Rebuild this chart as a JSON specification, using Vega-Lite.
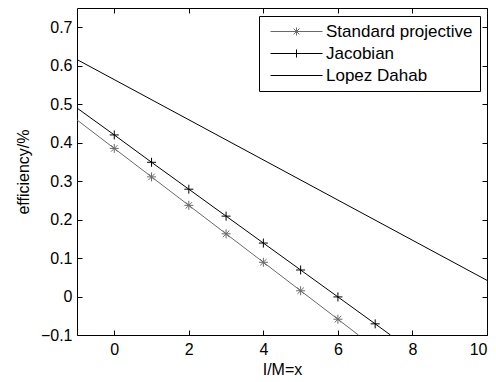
{
  "$schema": "https://vega.github.io/schema/vega-lite/v6.json",
  "width": 410,
  "height": 327,
  "autosize": "none",
  "padding": {"left": 77, "top": 8, "right": 9, "bottom": 47},
  "background": "white",
  "config": {
    "font": "Liberation Sans",
    "view": {"stroke": "black", "strokeWidth": 1},
    "axis": {
      "domain": false,
      "grid": false,
      "tickColor": "black",
      "tickSize": -5,
      "tickWidth": 1,
      "labelColor": "black",
      "labelFontSize": 16,
      "labelPadding": 10,
      "titleColor": "black",
      "titleFontSize": 16,
      "titleFontWeight": "normal"
    }
  },
  "data": {
    "values": [
      {"series": "Standard projective", "x": -1, "y": 0.459, "m": false},
      {"series": "Standard projective", "x": 0, "y": 0.385, "m": true},
      {"series": "Standard projective", "x": 1, "y": 0.311, "m": true},
      {"series": "Standard projective", "x": 2, "y": 0.237, "m": true},
      {"series": "Standard projective", "x": 3, "y": 0.163, "m": true},
      {"series": "Standard projective", "x": 4, "y": 0.089, "m": true},
      {"series": "Standard projective", "x": 5, "y": 0.015, "m": true},
      {"series": "Standard projective", "x": 6, "y": -0.059, "m": true},
      {"series": "Standard projective", "x": 6.55, "y": -0.1, "m": false},
      {"series": "Jacobian", "x": -1, "y": 0.49, "m": false},
      {"series": "Jacobian", "x": 0, "y": 0.42, "m": true},
      {"series": "Jacobian", "x": 1, "y": 0.349, "m": true},
      {"series": "Jacobian", "x": 2, "y": 0.279, "m": true},
      {"series": "Jacobian", "x": 3, "y": 0.209, "m": true},
      {"series": "Jacobian", "x": 4, "y": 0.139, "m": true},
      {"series": "Jacobian", "x": 5, "y": 0.069, "m": true},
      {"series": "Jacobian", "x": 6, "y": -0.001, "m": true},
      {"series": "Jacobian", "x": 7, "y": -0.071, "m": true},
      {"series": "Jacobian", "x": 7.41, "y": -0.1, "m": false},
      {"series": "Lopez Dahab", "x": -1, "y": 0.616, "m": false},
      {"series": "Lopez Dahab", "x": 10, "y": 0.042, "m": false}
    ]
  },
  "resolve": {"axis": {"x": "independent", "y": "independent"}},
  "layer": [
    {
      "mark": {"type": "line", "strokeWidth": 1, "clip": true},
      "encoding": {
        "x": {
          "field": "x", "type": "quantitative",
          "scale": {"domain": [-1, 10], "nice": false, "zero": false},
          "axis": {"orient": "bottom", "values": [0, 2, 4, 6, 8, 10], "title": "I/M=x", "titlePadding": 4, "labelPadding": 11}
        },
        "y": {
          "field": "y", "type": "quantitative",
          "scale": {"domain": [-0.1, 0.75], "nice": false, "zero": false},
          "axis": {"orient": "left", "values": [-0.1, 0, 0.1, 0.2, 0.3, 0.4, 0.5, 0.6, 0.7], "format": "~g", "title": "efficiency/%", "titlePadding": 9}
        },
        "color": {
          "field": "series", "type": "nominal",
          "scale": {"domain": ["Standard projective", "Jacobian", "Lopez Dahab"], "range": ["#6a6a6a", "black", "black"]},
          "legend": {
            "title": null,
            "orient": "none",
            "legendX": 182,
            "legendY": 8,
            "strokeColor": "black",
            "fillColor": "white",
            "padding": 7,
            "labelFontSize": 17,
            "labelColor": "black",
            "labelOffset": 43,
            "rowPadding": 4,
            "symbolSize": 64,
            "symbolStrokeWidth": 1,
            "encode": {
              "symbols": {
                "update": {
                  "shape": {"signal": "datum.value === 'Standard projective' ? 'M-1,0L12,0M5.5,-1L5.5,1M4.78,-0.72L6.22,0.72M4.78,0.72L6.22,-0.72' : (datum.value === 'Jacobian' ? 'M-1,0L12,0M5.5,-1L5.5,1' : 'M-1,0L12,0')"},
                  "fill": {"value": "transparent"}
                }
              }
            }
          }
        },
        "detail": {"field": "series"}
      }
    },
    {
      "transform": [{"filter": "datum.m"}],
      "mark": {"type": "point", "filled": false, "strokeWidth": 1, "size": 81, "opacity": 1},
      "encoding": {
        "x": {
          "field": "x", "type": "quantitative",
          "axis": {"orient": "top", "values": [0, 2, 4, 6, 8, 10], "labels": false, "title": null}
        },
        "y": {
          "field": "y", "type": "quantitative",
          "axis": {"orient": "right", "values": [-0.1, 0, 0.1, 0.2, 0.3, 0.4, 0.5, 0.6, 0.7], "labels": false, "title": null}
        },
        "color": {"field": "series", "type": "nominal", "legend": null},
        "shape": {
          "field": "series", "type": "nominal",
          "scale": {"domain": ["Standard projective", "Jacobian"], "range": ["M-1,0L1,0M0,-1L0,1M-0.72,-0.72L0.72,0.72M-0.72,0.72L0.72,-0.72", "M-1,0L1,0M0,-1L0,1"]},
          "legend": null
        }
      }
    }
  ]
}
